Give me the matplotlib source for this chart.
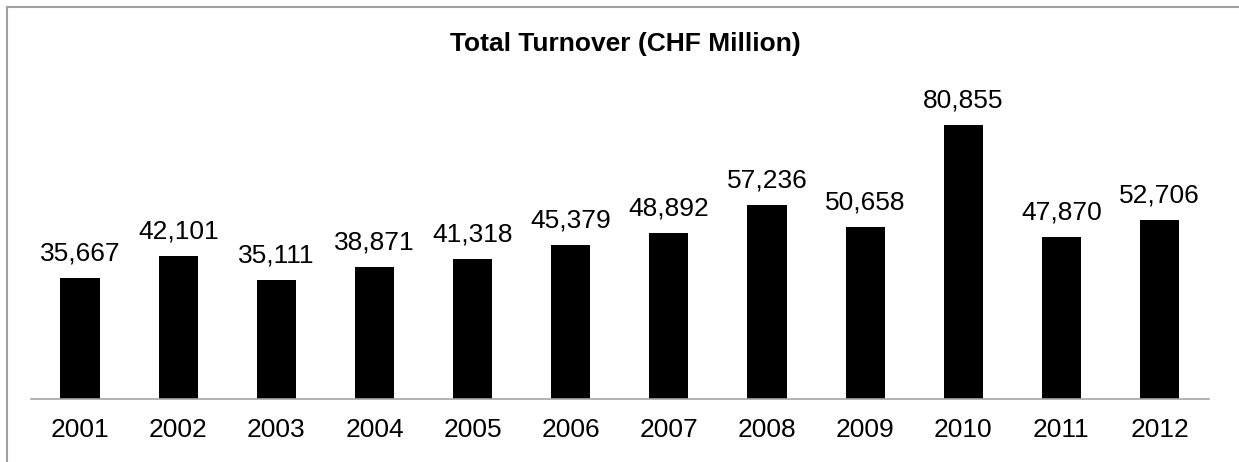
import matplotlib
matplotlib.use("Agg")
import matplotlib.pyplot as plt
from matplotlib.lines import Line2D

years = ["2001", "2002", "2003", "2004", "2005", "2006",
         "2007", "2008", "2009", "2010", "2011", "2012"]
turnover = [35667, 42101, 35111, 38871, 41318, 45379,
            48892, 57236, 50658, 80855, 47870, 52706]
title = "Total Turnover (CHF Million)"

plt.rcParams['font.family'] = ['Liberation Sans', 'DejaVu Sans']

W, H = 1239, 462
fig = plt.figure(figsize=(W / 100, H / 100), dpi=100)

# axes placement in pixels
left_px, right_px = 31, 1208.6
base_px = 399          # baseline from top
ymax = 90000
px_per_unit = 274 / 80855
height_px = ymax * px_per_unit
ax = fig.add_axes([left_px / W, (H - base_px) / H,
                   (right_px - left_px) / W, height_px / H])

x = list(range(len(years)))
bars = ax.bar(x, turnover, width=0.40, color="black", zorder=2)
ax.set_xlim(-0.5, len(years) - 0.5)
ax.set_ylim(0, ymax)
ax.bar_label(bars, labels=[f"{v:,}" for v in turnover], padding=9,
             fontsize=19, color="black")

ax.set_xticks(x)
ax.set_xticklabels(years, fontsize=19)
ax.tick_params(axis="x", length=0, pad=14)
ax.set_yticks([])
for s in ["top", "right", "left"]:
    ax.spines[s].set_visible(False)
ax.spines["bottom"].set_color("#a6a6a6")
ax.spines["bottom"].set_linewidth(1.2)

fig.text(625.5 / W, 1 - 51 / H, title, ha="center", va="baseline",
         fontsize=19, fontweight="bold")

# outer chart frame (cropped on right/bottom)
fig.add_artist(Line2D([7 / W, 1.0], [1 - 6.5 / H, 1 - 6.5 / H],
                      transform=fig.transFigure, color="#a0a0a0", lw=1.5))
fig.add_artist(Line2D([7 / W, 7 / W], [0.0, 1 - 6.5 / H],
                      transform=fig.transFigure, color="#a0a0a0", lw=1.5))

fig.savefig("out.png", dpi=100, facecolor="white")
